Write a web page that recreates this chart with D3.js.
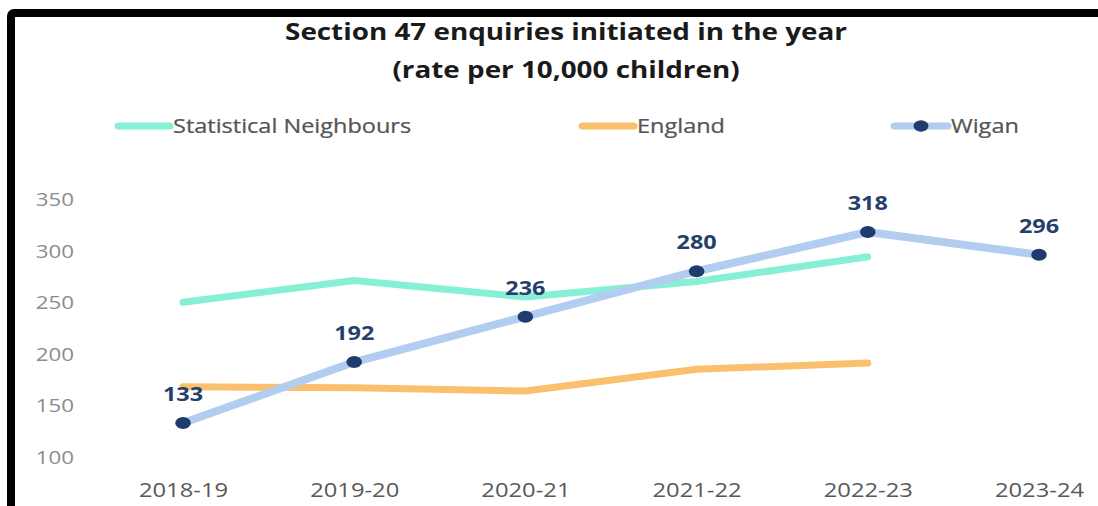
<!DOCTYPE html>
<html>
<head>
<meta charset="utf-8">
<script src="https://cdn.jsdelivr.net/npm/d3@7"></script>
<style>
  html, body { margin: 0; padding: 0; background: #fff; }
  svg { display: block; }
  text { font-family: "Open Sans", "Noto Sans", sans-serif; }
</style>
</head>
<body>
<svg id="chart" width="1098" height="506"></svg>
<script>
// Section 47 enquiries, rate per 10,000 children
const years = ["2018-19", "2019-20", "2020-21", "2021-22", "2022-23", "2023-24"];
const statNeighbours = [250, 271, 255, 270, 294];
const england = [168, 167, 164, 185, 191];
const wigan = [133, 192, 236, 280, 318, 296];
const yTicks = [100, 150, 200, 250, 300, 350];
const titleLines = ["Section 47 enquiries initiated in the year", "(rate per 10,000 children)"];
const seriesNames = ["Statistical Neighbours", "England", "Wigan"];

const colors = {
  sn: "#86efd4",
  eng: "#fbc06e",
  wig: "#b2cdf0",
  dot: "#1e3d6e",
  label: "#253f6c"
};

// text is drawn slightly wide
const sx = 1.2;

const svg = d3.select("#chart");

const x = d3.scalePoint().domain(years).range([183, 1039]);
const y = d3.scaleLinear().domain([100, 350]).range([457, 199]);

// frame
svg.append("rect")
  .attr("x", 11).attr("y", 13)
  .attr("width", 1300).attr("height", 700)
  .attr("rx", 3)
  .attr("fill", "none")
  .attr("stroke", "#000")
  .attr("stroke-width", 8);

function wideText(g, px, py, str) {
  return g.append("text")
    .attr("transform", `translate(${px},${py}) scale(${sx},1)`)
    .text(str);
}

// title
titleLines.forEach((t, i) => {
  wideText(svg, 566, 40 + i * 38, t)
    .attr("text-anchor", "middle")
    .attr("font-size", 23.2)
    .attr("font-weight", 700)
    .attr("fill", "#1a1a1a");
});

// legend
const legend = svg.append("g");
const legendItems = [
  { name: seriesNames[0], x0: 118, x1: 170, tx: 173, color: colors.sn, dot: false },
  { name: seriesNames[1], x0: 582, x1: 634, tx: 637, color: colors.eng, dot: false },
  { name: seriesNames[2], x0: 894, x1: 948, tx: 951, color: colors.wig, dot: true }
];
legendItems.forEach(d => {
  legend.append("line")
    .attr("x1", d.x0).attr("x2", d.x1)
    .attr("y1", 126).attr("y2", 126)
    .attr("stroke", d.color)
    .attr("stroke-width", 7)
    .attr("stroke-linecap", "round");
  if (d.dot) {
    legend.append("ellipse")
      .attr("cx", (d.x0 + d.x1) / 2).attr("cy", 126)
      .attr("rx", 7.5).attr("ry", 5.8)
      .attr("fill", colors.dot);
  }
  wideText(legend, d.tx, 133, d.name)
    .attr("font-size", 19.6)
    .attr("fill", "#555")
    .style("paint-order", "stroke")
    .attr("stroke", "#555")
    .attr("stroke-width", 0.25);
});

// y axis labels
const yAxis = svg.append("g")
  .attr("transform", "translate(74,0)")
  .call(d3.axisLeft(y).tickValues(yTicks).tickSize(0).tickPadding(0));
yAxis.select(".domain").remove();
yAxis.selectAll("text")
  .attr("x", 0)
  .attr("dy", "0.35em")
  .attr("font-size", 18.6)
  .attr("fill", "#8c8c8c")
  .attr("transform", `scale(${sx},1)`)
  .style("font-family", '"Open Sans", sans-serif');

// x axis labels
const xAxis = svg.append("g")
  .attr("transform", "translate(0,490)")
  .call(d3.axisBottom(x).tickSize(0).tickPadding(0));
xAxis.select(".domain").remove();
xAxis.selectAll("text")
  .attr("y", 0)
  .attr("dy", "0.35em")
  .attr("font-size", 19.8)
  .attr("fill", "#595959")
  .attr("transform", `scale(${sx},1)`)
  .style("font-family", '"Open Sans", sans-serif');

// lines
const line = d3.line()
  .x((d, i) => x(years[i]))
  .y(d => y(d));

svg.append("path")
  .datum(statNeighbours)
  .attr("d", line)
  .attr("fill", "none")
  .attr("stroke", colors.sn)
  .attr("stroke-width", 7)
  .attr("stroke-linejoin", "round")
  .attr("stroke-linecap", "round");

svg.append("path")
  .datum(england)
  .attr("d", line)
  .attr("fill", "none")
  .attr("stroke", colors.eng)
  .attr("stroke-width", 7)
  .attr("stroke-linejoin", "round")
  .attr("stroke-linecap", "round");

svg.append("path")
  .datum(wigan)
  .attr("d", line)
  .attr("fill", "none")
  .attr("stroke", colors.wig)
  .attr("stroke-width", 8)
  .attr("stroke-linejoin", "round")
  .attr("stroke-linecap", "round");

svg.selectAll(".wdot")
  .data(wigan)
  .join("ellipse")
  .attr("class", "wdot")
  .attr("cx", (d, i) => x(years[i]))
  .attr("cy", d => y(d))
  .attr("rx", 7.8)
  .attr("ry", 6)
  .attr("fill", colors.dot);

svg.selectAll(".wlabel")
  .data(wigan)
  .join("text")
  .attr("class", "wlabel")
  .attr("transform", (d, i) => `translate(${x(years[i])},${y(d) - 22}) scale(${sx},1)`)
  .attr("text-anchor", "middle")
  .attr("font-size", 19.5)
  .attr("font-weight", 700)
  .attr("fill", colors.label)
  .text(d => d);
</script>
</body>
</html>
